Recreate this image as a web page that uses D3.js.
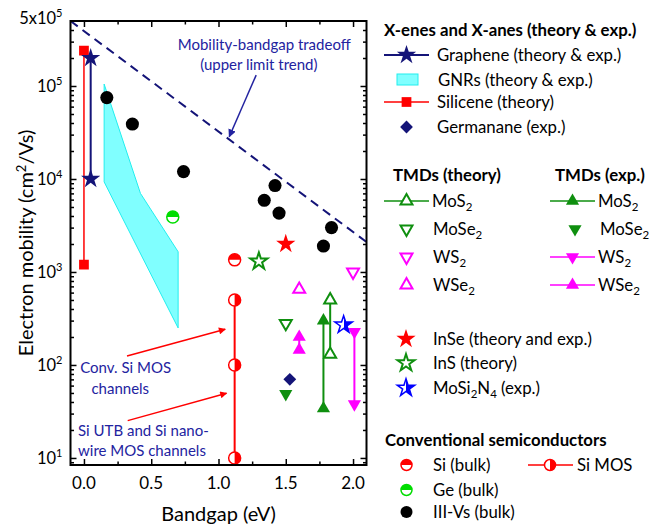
<!DOCTYPE html>
<html><head><meta charset="utf-8">
<script src="https://cdn.jsdelivr.net/npm/d3@7/dist/d3.min.js"></script>
<style>body{margin:0;background:#fff} text{font-family:Lato,"Open Sans",sans-serif;fill:#000}</style>
</head><body><svg id="c" width="661" height="526"></svg>
<script>
// ---------- DATA ----------
const xTicks = [0.0, 0.5, 1.0, 1.5, 2.0];
const xMinorTicks = [-0.25, 0.25, 0.75, 1.25, 1.75];
const yTickExps = [1, 2, 3, 4, 5];
const yTopLabel = 5e5;

const tradeoffX = [-0.1, 2.1];
const tradeoffY = [5e5, 2.1e3];

const siliceneX = [0.0, 0.0];
const siliceneY = [2.4e5, 1.2e3];
const grapheneX = [0.05, 0.05];
const grapheneY = [2.0e5, 1.0e4];
const gnrX = [0.15, 0.42, 0.70, 0.70, 0.15];
const gnrY = [1.05e5, 7.0e3, 1.65e3, 250, 9.3e3];
const germananeX = [1.53];
const germananeY = [70];

const mos2TheoryX = [1.83, 1.83];
const mos2TheoryY = [500, 130];
const mose2TheoryX = [1.50];
const mose2TheoryY = [280];
const ws2TheoryX = [2.0];
const ws2TheoryY = [1000];
const wse2TheoryX = [1.60];
const wse2TheoryY = [650];

const mos2ExpX = [1.78, 1.78];
const mos2ExpY = [300, 34];
const mose2ExpX = [1.50];
const mose2ExpY = [49];
const ws2ExpX = [2.01, 2.01];
const ws2ExpY = [228, 38];
const wse2ExpX = [1.60, 1.60];
const wse2ExpY = [200, 145];

const inSeX = [1.50];
const inSeY = [2000];
const inSX = [1.30];
const inSY = [1300];
const mosi2n4X = [1.93];
const mosi2n4Y = [270];

const siBulkX = [1.12];
const siBulkY = [1350];
const geBulkX = [0.66];
const geBulkY = [3900];
const iiivX = [0.17, 0.36, 0.74, 1.34, 1.42, 1.45, 1.78, 1.84];
const iiivY = [7.5e4, 3.9e4, 1.2e4, 5.9e3, 8.5e3, 4.3e3, 1.9e3, 3.0e3];
const siMosX = [1.12, 1.12, 1.12];
const siMosY = [500, 100, 10];

// annotation anchors (data coords)
const tradeoffArrow = {x1: 1.28, y1: 1.31e5, x2: 1.08, y2: 2.85e4};
const convArrow = {x1: 0.32, y1: 125, x2: 1.05, y2: 242};
const utbArrow = {x1: 0.325, y1: 25.2, x2: 1.06, y2: 49.6};

// ---------- SETUP ----------
const svg = d3.select("#c");
const x = d3.scaleLinear().domain([-0.1, 2.1]).range([70.5, 366.5]);
const y = d3.scaleLog().domain([8.4, 5e5]).range([465, 21]);
const NAVY = "#141478", TXTNAVY = "#2323a0", GREEN = "#0f8f0f", MAG = "#ff00ff", RED = "#ff0000";

const defs = svg.append("defs");
const grad = defs.append("linearGradient").attr("id", "halfBlue").attr("x1", 0).attr("x2", 1).attr("y1", 0).attr("y2", 0);
grad.append("stop").attr("offset", "0.5").attr("stop-color", "#fff");
grad.append("stop").attr("offset", "0.5").attr("stop-color", "#0000ff");
defs.append("clipPath").attr("id", "plotClip").append("rect")
  .attr("x", x.range()[0]).attr("y", y.range()[1]).attr("width", x.range()[1] - x.range()[0]).attr("height", y.range()[0] - y.range()[1]);

function sym(type, size) { return d3.symbol().type(type).size(size)(); }

// ---------- AXES ----------
const gx = svg.append("g");
function axisG(axis, tf) { const g = gx.append("g").attr("transform", tf).call(axis); g.select(".domain").remove(); g.selectAll("line").attr("stroke", "#000").attr("stroke-width", 1.5); g.selectAll("text").remove(); return g; }
const x0 = x.range()[0], x1 = x.range()[1], y0 = y.range()[0], y1 = y.range()[1];
axisG(d3.axisBottom(x).tickValues(xTicks).tickSize(-6), `translate(0,${y0})`);
axisG(d3.axisBottom(x).tickValues(xMinorTicks.filter(v => v > -0.1)).tickSize(-3.5), `translate(0,${y0})`);
axisG(d3.axisTop(x).tickValues(xTicks).tickSize(-6), `translate(0,${y1})`);
axisG(d3.axisTop(x).tickValues(xMinorTicks.filter(v => v > -0.1)).tickSize(-3.5), `translate(0,${y1})`);
const yMajors = yTickExps.map(e => Math.pow(10, e));
const yMinors = [];
for (let e = 0; e <= 5; e++) for (let m = 2; m <= 9; m++) { const v = m * Math.pow(10, e); if (v > 8.4 && v < 5e5) yMinors.push(v); }
axisG(d3.axisLeft(y).tickValues(yMajors).tickSize(-6), `translate(${x0},0)`);
axisG(d3.axisLeft(y).tickValues(yMinors).tickSize(-3.5), `translate(${x0},0)`);
axisG(d3.axisRight(y).tickValues(yMajors).tickSize(-6), `translate(${x1},0)`);
axisG(d3.axisRight(y).tickValues(yMinors).tickSize(-3.5), `translate(${x1},0)`);

// x tick labels
svg.append("g").selectAll("text").data(xTicks).join("text")
  .attr("x", d => x(d)).attr("y", y0 + 24).attr("text-anchor", "middle").attr("font-size", 17)
  .text(d => d.toFixed(1));
// y tick labels
yTickExps.forEach(e => {
  const t = svg.append("text").attr("x", x0 - 8).attr("y", y(Math.pow(10, e)) + 6).attr("text-anchor", "end").attr("font-size", 16.5);
  t.append("tspan").text("10");
  t.append("tspan").attr("dy", -7).attr("font-size", 11).text(e);
});
{
  const t = svg.append("text").attr("x", x0 - 8).attr("y", y(yTopLabel) + 3).attr("text-anchor", "end").attr("font-size", 16.5);
  t.append("tspan").text("5x10");
  t.append("tspan").attr("dy", -7).attr("font-size", 11).text("5");
}
// axis titles
svg.append("text").attr("x", (x0 + x1) / 2).attr("y", 521).attr("text-anchor", "middle").attr("font-size", 20).text("Bandgap (eV)");
{
  const t = svg.append("text").attr("transform", `translate(33,${(y0 + y1) / 2}) rotate(-90)`).attr("text-anchor", "middle").attr("font-size", 20);
  t.append("tspan").text("Electron mobility (cm");
  t.append("tspan").attr("dy", -7).attr("font-size", 13).text("2");
  t.append("tspan").attr("dy", 7).text("/Vs)");
}

// ---------- PLOT ----------
const plot = svg.append("g").attr("clip-path", "url(#plotClip)");
const pts = (xs, ys) => xs.map((v, i) => [x(v), y(ys[i])]);
const line = d3.line();

// GNR band
plot.append("path").attr("d", line(pts(gnrX, gnrY)) + "Z").attr("fill", "#80ffff").attr("stroke", "#22eeee").attr("stroke-width", 1);
// tradeoff line
plot.append("path").attr("d", line(pts(tradeoffX, tradeoffY))).attr("stroke", NAVY).attr("stroke-width", 2).attr("stroke-dasharray", "9,6").attr("fill", "none");

// connecting lines
function vline(xs, ys, color, w) { plot.append("path").attr("d", line(pts(xs, ys))).attr("stroke", color).attr("stroke-width", w).attr("fill", "none"); }
vline(siliceneX, siliceneY, RED, 1.5);
vline(grapheneX, grapheneY, NAVY, 2);
vline(siMosX, siMosY, RED, 2);
vline(mos2TheoryX, mos2TheoryY, GREEN, 2);
vline(mos2ExpX, mos2ExpY, GREEN, 2);
vline(ws2ExpX, ws2ExpY, MAG, 2);
vline(wse2ExpX, wse2ExpY, MAG, 2);

function markers(xs, ys, d, fill, stroke, sw, rot) {
  plot.append("g").selectAll("path").data(xs.map((v, i) => [v, ys[i]])).join("path")
    .attr("d", d).attr("transform", p => `translate(${x(p[0])},${y(p[1])})${rot ? " rotate(" + rot + ")" : ""}`)
    .attr("fill", fill).attr("stroke", stroke || "none").attr("stroke-width", sw || 0);
}
const TRI = sym(d3.symbolTriangle, 75), TRIo = sym(d3.symbolTriangle, 62);
const STAR = sym(d3.symbolStar, 115), SQUARE = sym(d3.symbolSquare, 95), DIAM = sym(d3.symbolSquare, 82), CIRC = sym(d3.symbolCircle, 135);

markers(iiivX, iiivY, CIRC, "#000");
markers(siliceneX, siliceneY, SQUARE, RED);
markers(grapheneX, grapheneY, STAR, NAVY);
markers(germananeX, germananeY, DIAM, NAVY, null, 0, 45);
markers(mos2ExpX, mos2ExpY, TRI, GREEN);
markers(mose2ExpX, mose2ExpY, TRI, GREEN, null, 0, 180);
markers(ws2ExpX, ws2ExpY, TRI, MAG, null, 0, 180);
markers(wse2ExpX, wse2ExpY, TRI, MAG);
markers(mos2TheoryX, mos2TheoryY, TRIo, "#fff", GREEN, 2);
markers(mose2TheoryX, mose2TheoryY, TRIo, "#fff", GREEN, 2, 180);
markers(ws2TheoryX, ws2TheoryY, TRIo, "#fff", MAG, 2, 180);
markers(wse2TheoryX, wse2TheoryY, TRIo, "#fff", MAG, 2);
markers(inSeX, inSeY, STAR, RED);
markers(inSX, inSY, sym(d3.symbolStar, 90), "#fff", GREEN, 2);
markers(mosi2n4X, mosi2n4Y, sym(d3.symbolStar, 95), "url(#halfBlue)", "#0000ff", 1.5);

// half-filled circles
function halfCircle(g, cx, cy, r, color, half) {
  g.append("circle").attr("cx", cx).attr("cy", cy).attr("r", r).attr("fill", "#fff").attr("stroke", color).attr("stroke-width", 1.5);
  const a = half === "top" ? [-Math.PI / 2, Math.PI / 2] : [0, Math.PI];
  g.append("path").attr("d", d3.arc().innerRadius(0).outerRadius(r).startAngle(a[0]).endAngle(a[1])())
    .attr("transform", `translate(${cx},${cy})`).attr("fill", color);
}
siBulkX.forEach((v, i) => halfCircle(plot, x(v), y(siBulkY[i]), 6, RED, "top"));
geBulkX.forEach((v, i) => halfCircle(plot, x(v), y(geBulkY[i]), 6, "#00dd00", "top"));
siMosX.forEach((v, i) => halfCircle(plot, x(v), y(siMosY[i]), 6, RED, "right"));

// ---------- ANNOTATIONS ----------
defs.append("marker").attr("id", "ahNavy").attr("viewBox", "0 0 10 10").attr("refX", 9).attr("refY", 5)
  .attr("markerWidth", 8).attr("markerHeight", 8).attr("orient", "auto").attr("markerUnits", "userSpaceOnUse")
  .append("path").attr("d", "M0,0L10,5L0,10Z").attr("fill", TXTNAVY);
defs.append("marker").attr("id", "ahRed").attr("viewBox", "0 0 10 10").attr("refX", 9).attr("refY", 5)
  .attr("markerWidth", 9).attr("markerHeight", 7).attr("orient", "auto").attr("markerUnits", "userSpaceOnUse")
  .append("path").attr("d", "M0,0L10,5L0,10Z").attr("fill", RED);
function arrow(a, color, mk) {
  svg.append("line").attr("x1", x(a.x1)).attr("y1", y(a.y1)).attr("x2", x(a.x2)).attr("y2", y(a.y2))
    .attr("stroke", color).attr("stroke-width", 1.5).attr("marker-end", `url(#${mk})`);
}
arrow(tradeoffArrow, TXTNAVY, "ahNavy");
arrow(convArrow, RED, "ahRed");
arrow(utbArrow, RED, "ahRed");

function label(px, py, str, anchor, size) {
  svg.append("text").attr("x", px).attr("y", py).attr("text-anchor", anchor).attr("font-size", size).style("fill", TXTNAVY).text(str);
}
label(x(1.34), 50, "Mobility-bandgap tradeoff", "middle", 15);
label(x(1.30), 70, "(upper limit trend)", "middle", 15);
label(x(0.31), y(100) + 8, "Conv. Si  MOS", "middle", 15);
label(x(0.27), y(100) + 29, "channels", "middle", 15);
label(78, 436, "Si  UTB and Si nano-", "start", 15);
label(78, 456, "wire MOS channels", "start", 15);

// ---------- LEGEND ----------
const lg = svg.append("g");
const LFS = 16.8;
function ltext(px, py, parts, bold) {
  const t = lg.append("text").attr("x", px).attr("y", py + 6).attr("font-size", LFS).attr("font-weight", bold ? "bold" : "normal");
  (Array.isArray(parts) ? parts : [[parts]]).forEach(p => {
    const s = t.append("tspan").text(p[0]);
    if (p[1] === "sub") s.attr("font-size", 11.5).attr("dy", 4);
    else if (p[2]) s.attr("dy", -4);
  });
}
function lline(xa, xb, py, color, w) { lg.append("line").attr("x1", xa).attr("x2", xb).attr("y1", py).attr("y2", py).attr("stroke", color).attr("stroke-width", w); }
function lmark(px, py, d, fill, stroke, sw, rot) {
  lg.append("path").attr("d", d).attr("transform", `translate(${px},${py})${rot ? " rotate(" + rot + ")" : ""}`)
    .attr("fill", fill).attr("stroke", stroke || "none").attr("stroke-width", sw || 0);
}
// section 1
ltext(384, 30, "X-enes and X-anes (theory & exp.)", true);
lline(384, 429, 55, NAVY, 2); lmark(406.5, 55, STAR, NAVY); ltext(437, 55, "Graphene (theory & exp.)");
lg.append("rect").attr("x", 397).attr("y", 74).attr("width", 21).attr("height", 11).attr("fill", "#80ffff").attr("stroke", "#22eeee");
ltext(438, 80, "GNRs (theory & exp.)");
lline(384, 429, 102, RED, 1.5); lmark(406.5, 102, SQUARE, RED); ltext(437, 102, "Silicene (theory)");
lmark(406.5, 127, DIAM, NAVY, null, 0, 45); ltext(437, 127, "Germanane (exp.)");
// section 2
ltext(393, 175, "TMDs (theory)", true);
ltext(555, 175, "TMDs (exp.)", true);
const rows = [201, 229, 257, 285];
lline(384, 429, rows[0], GREEN, 1.5); lmark(406.5, rows[0], TRIo, "#fff", GREEN, 2); ltext(432, rows[0], [["MoS"], ["2", "sub"]]);
lmark(406.5, rows[1], TRIo, "#fff", GREEN, 2, 180); ltext(433, rows[1], [["MoSe"], ["2", "sub"]]);
lmark(406.5, rows[2], TRIo, "#fff", MAG, 2, 180); ltext(433, rows[2], [["WS"], ["2", "sub"]]);
lmark(406.5, rows[3], TRIo, "#fff", MAG, 2); ltext(433, rows[3], [["WSe"], ["2", "sub"]]);
lline(550, 595, rows[0], GREEN, 1.5); lmark(572.5, rows[0], TRI, GREEN); ltext(598, rows[0], [["MoS"], ["2", "sub"]]);
lmark(575, rows[1], TRI, GREEN, null, 0, 180); ltext(600, rows[1], [["MoSe"], ["2", "sub"]]);
lline(550, 595, rows[2], MAG, 1.5); lmark(572.5, rows[2], TRI, MAG, null, 0, 180); ltext(598, rows[2], [["WS"], ["2", "sub"]]);
lline(550, 595, rows[3], MAG, 1.5); lmark(572.5, rows[3], TRI, MAG); ltext(598, rows[3], [["WSe"], ["2", "sub"]]);
// section 3
lmark(406, 339, STAR, RED); ltext(433, 339, "InSe (theory and exp.)");
lmark(406, 363, sym(d3.symbolStar, 90), "#fff", GREEN, 2); ltext(433, 363, "InS (theory)");
lmark(406, 388, sym(d3.symbolStar, 95), "url(#halfBlue)", "#0000ff", 1.5);
ltext(433, 388, [["MoSi"], ["2", "sub"], ["N", "", true], ["4", "sub"], [" (exp.)", "", true]]);
ltext(385, 440, "Conventional semiconductors", true);
halfCircle(lg, 406.5, 465, 5.5, RED, "top"); ltext(433, 465, "Si (bulk)");
lline(528, 573, 465, RED, 1.5); halfCircle(lg, 550, 465, 5.5, RED, "right"); ltext(577, 465, "Si MOS");
halfCircle(lg, 406.5, 490, 5.5, "#00dd00", "top"); ltext(433, 490, "Ge (bulk)");
lg.append("circle").attr("cx", 406.5).attr("cy", 512).attr("r", 6).attr("fill", "#000"); ltext(433, 512, "III-Vs (bulk)");

// frame
svg.append("rect").attr("x", x0).attr("y", y1).attr("width", x1 - x0).attr("height", y0 - y1).attr("fill", "none").attr("stroke", "#000").attr("stroke-width", 2);
</script></body></html>
